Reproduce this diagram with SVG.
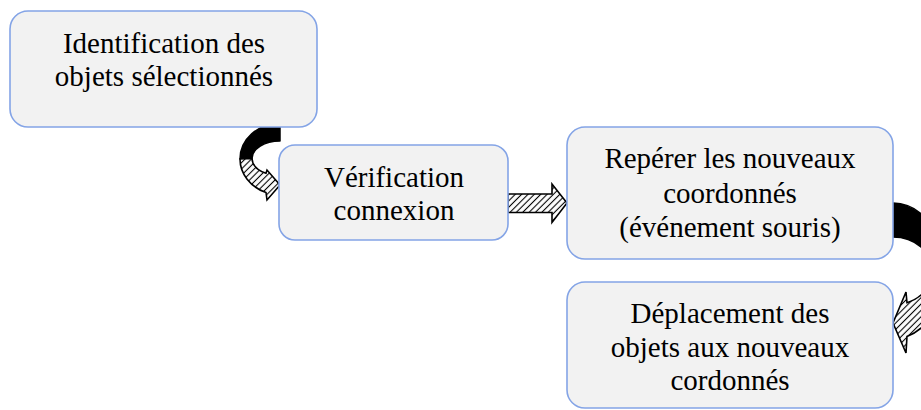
<svg xmlns="http://www.w3.org/2000/svg" width="921" height="410" viewBox="0 0 921 410">
  <style>
    .box { fill: #f2f2f2; stroke: #84a4e6; stroke-width: 1.6; }
    .lbl { font-family: "Liberation Serif", "Times New Roman", serif; font-size: 29px; fill: #000; text-anchor: middle; }
    .dark { fill: #000; stroke: #000; stroke-width: 1.5; stroke-linejoin: round; }
    .hatched { fill: url(#hatch); stroke: #000; stroke-width: 1.6; stroke-linejoin: miter; }
  </style>
  <defs>
    <pattern id="hatch" patternUnits="userSpaceOnUse" width="4.5" height="4.5" patternTransform="rotate(45)">
      <rect width="4.5" height="4.5" fill="#fff"/>
      <line x1="2.25" y1="0" x2="2.25" y2="4.5" stroke="#000" stroke-width="1.1"/>
    </pattern>
  </defs>
  <rect width="921" height="410" fill="#fff"/>
  <g id="connectors">
    <g id="arrow1">
      <path class="dark" d="M 280,123 A 41 36 0 0 0 240,159 L 252,158.5 A 28 17.5 0 0 1 280,141 Z"/>
      <path class="hatched" d="M 240,159 A 41 36 0 0 0 266,192.5 L 267,200 L 280,185 L 267,170 L 266,173.3 A 28 17.5 0 0 1 252,158.5 Z"/>
    </g>
    <g id="arrow2">
      <path class="hatched" d="M 508,194 L 552,194 L 552,184 L 567,203 L 552,222.5 L 552,212.5 L 508,212.5 Z"/>
    </g>
    <g id="arrow3">
      <path class="dark" d="M 893,203 A 51.4 68 0 0 1 944.4,271 L 932.5,271 A 39.5 34 0 0 0 893,237 Z"/>
      <path class="hatched" d="M 944.4,271 A 51.4 68 0 0 1 907,336.4 L 906,353 L 893,323 L 906,292 L 907,302.8 A 39.5 34 0 0 0 932.5,271 Z"/>
    </g>
  </g>
  <g id="node1">
    <rect class="box" x="10" y="11" width="307" height="116" rx="18"/>
    <text class="lbl" x="164" y="53">Identification des</text>
    <text class="lbl" x="164" y="86">objets sélectionnés</text>
  </g>
  <g id="node2">
    <rect class="box" x="279" y="145" width="229" height="95" rx="16"/>
    <text class="lbl" x="394" y="187">Vérification</text>
    <text class="lbl" x="394" y="220">connexion</text>
  </g>
  <g id="node3">
    <rect class="box" x="567" y="127" width="326" height="132" rx="18"/>
    <text class="lbl" x="730" y="168">Repérer les nouveaux</text>
    <text class="lbl" x="730" y="203">coordonnés</text>
    <text class="lbl" x="730" y="237">(événement souris)</text>
  </g>
  <g id="node4">
    <rect class="box" x="567" y="282" width="326" height="126" rx="18"/>
    <text class="lbl" x="730" y="323">Déplacement des</text>
    <text class="lbl" x="730" y="357">objets aux nouveaux</text>
    <text class="lbl" x="730" y="390">cordonnés</text>
  </g>
</svg>
